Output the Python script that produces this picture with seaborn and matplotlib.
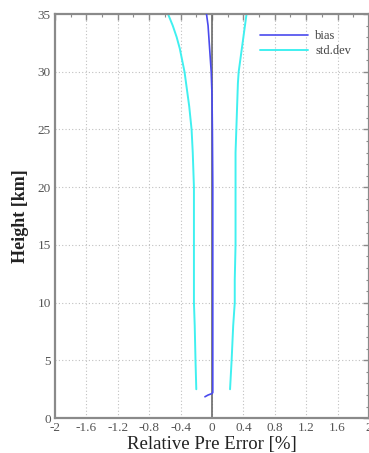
import matplotlib
matplotlib.use("Agg")
import matplotlib.pyplot as plt
import seaborn as sns
import numpy as np
import pandas as pd
from matplotlib.ticker import MultipleLocator, FuncFormatter

# Height levels [km] and profile statistics [%]
height_std = [2.5, 5, 8, 10, 12, 15, 18, 20, 22, 23, 25, 27, 29, 30, 31, 32, 33, 34, 35]
std_left = [-0.20, -0.21, -0.22, -0.23, -0.23, -0.23, -0.23, -0.23, -0.24, -0.245, -0.26, -0.29, -0.33, -0.35, -0.38, -0.41, -0.45, -0.50, -0.56]
std_right = [0.23, 0.25, 0.27, 0.29, 0.29, 0.30, 0.30, 0.30, 0.30, 0.30, 0.31, 0.32, 0.33, 0.34, 0.36, 0.38, 0.40, 0.42, 0.44]

height_bias = [1.85, 2.0, 2.1, 2.2, 2.5, 5, 10, 15, 20, 25, 28, 30, 32, 34, 35]
bias = [-0.09, -0.05, -0.01, 0.01, 0.01, 0.01, 0.01, 0.01, 0.01, 0.005, 0.0, -0.01, -0.03, -0.05, -0.07]

x_ticks = [-2, -1.6, -1.2, -0.8, -0.4, 0, 0.4, 0.8, 1.2, 1.6, 2]

sns.set_theme(style="white")
plt.rcParams["font.family"] = ["Liberation Serif", "DejaVu Serif"]

fig = plt.figure(figsize=(3.69, 4.53), dpi=100)
ax = fig.add_axes([0.149, 0.077, 0.851, 0.892])

spine_col = "#8a8a8a"
grid_col = "#c0c0c0"

# grid and zero reference line
for xv in x_ticks[1:-1]:
    ax.axvline(xv, color=grid_col, lw=0.8, ls=(0, (1, 2)), zorder=0)
for yv in range(5, 35, 5):
    ax.axhline(yv, color=grid_col, lw=0.8, ls=(0, (1, 2)), zorder=0)
ax.axvline(0, color="#6a6a6a", lw=1.2, zorder=1)

df_std = pd.DataFrame({"h": height_std, "l": std_left, "r": std_right})
df_bias = pd.DataFrame({"h": height_bias, "b": bias})

sns.lineplot(data=df_bias, x="b", y="h", sort=False, estimator=None, ax=ax,
             color="#4a4aee", lw=1.2, label="bias", zorder=3)
sns.lineplot(data=df_std, x="l", y="h", sort=False, estimator=None, ax=ax,
             color="#40f0f0", lw=1.4, label="std.dev", zorder=2)
sns.lineplot(data=df_std, x="r", y="h", sort=False, estimator=None, ax=ax,
             color="#40f0f0", lw=1.4, zorder=2)

ax.set_xlim(-2, 2)
ax.set_ylim(0, 35)
ax.set_xticks(x_ticks)
ax.xaxis.set_major_formatter(FuncFormatter(lambda v, p: f"{v:g}"))
ax.xaxis.set_minor_locator(MultipleLocator(0.2))
ax.yaxis.set_major_locator(MultipleLocator(5))
ax.yaxis.set_minor_locator(MultipleLocator(1))

ax.tick_params(axis="both", which="both", direction="in", top=True, right=True,
               colors=spine_col, labelcolor="#555555", labelsize=9.5, pad=3)
ax.tick_params(which="major", length=4, width=1)
ax.tick_params(which="minor", length=2.5, width=0.8)

for s in ax.spines.values():
    s.set_color(spine_col)
    s.set_linewidth(1.6)
    s.set_visible(True)

ax.set_xlabel("Relative Pre Error [%]", fontsize=13.5, color="#222222", labelpad=1)
ax.set_ylabel("Height [km]", fontsize=13, color="#222222", fontweight="bold", labelpad=6)

leg = ax.legend(loc="upper right", frameon=False, fontsize=9, handlelength=3.8,
                borderaxespad=0.4, labelspacing=0.25, handletextpad=0.6,
                bbox_to_anchor=(0.975, 0.985))
for t in leg.get_texts():
    t.set_color("#444444")

fig.savefig("out.png", dpi=100)
